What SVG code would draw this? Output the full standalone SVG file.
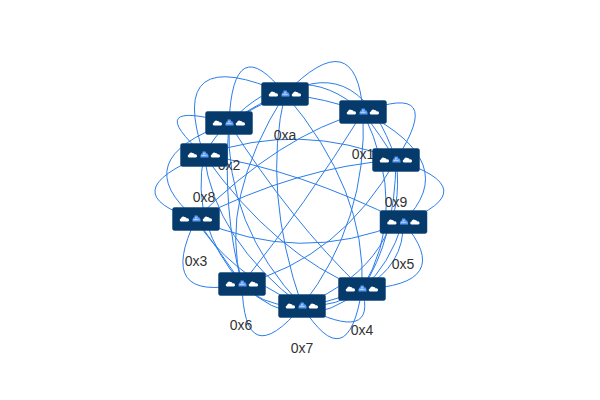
<svg xmlns="http://www.w3.org/2000/svg" width="600" height="400" viewBox="0 0 600 400">
<style>
#connectors path{fill:none;stroke:#2b7de9;stroke-width:1}
.box{fill:#063a6b;stroke:#0d4a80;stroke-width:.5}
.w{fill:#fff}.b{fill:#5d9cf2}
text{font-family:"Liberation Sans",Arial,sans-serif;font-size:14px;fill:#333;text-anchor:middle}
</style>
<defs>
<path id="cl" class="w" d="M-3 2.500a1.500 1.500 0 0 1 -.5 -3a2.200 2.200 0 0 1 3.400 -1.500a2.200 2.200 0 0 1 2.400 1.500a1.600 1.600 0 0 1 1.200 3z"/>
<g id="ic">
<rect class="box" x="-23.500" y="-11.500" width="47" height="23" rx="2"/>
<use href="#cl" x="-11.500"/>
<use href="#cl" x="11.500"/>
<path class="b" d="M-1.500 -3.500h3l1 2h1l1 2v2h-8v-2l1-2h1z"/>
<path class="w" d="M-.8 -1.500h1.600v.8h-1.600zM-2.500 .5h5v.6h-5z"/>
</g>
</defs>
<g id="connectors">
<path d="M285 94Q356 21 363 112"/>
<path d="M229 123Q233 28 285 94"/>
<path d="M363 112Q447 80 396 160"/>
<path d="M363 112Q463 163 403 222"/>
<path d="M396 160Q488 189 403 222"/>
<path d="M403 222Q457 285 362 289"/>
<path d="M362 289Q378 345 302 306"/>
<path d="M362 289Q348 379 302 306"/>
<path d="M242 284Q244 375 302 306"/>
<path d="M196 219Q155 303 242 284"/>
<path d="M204 155Q110 193 196 219"/>
<path d="M229 123Q140 98 204 155"/>
<path d="M285 94Q165 40 204 155"/>
<path d="M229 123Q296 52 363 112"/>
<path d="M285 94Q360 53 396 160"/>
<path d="M229 123Q124 159 196 219"/>
<path d="M229 123Q257 105 285 94"/>
<path d="M229 123Q262 100 285 94"/>
<path d="M285 94Q325 98 363 112"/>
<path d="M363 112Q380 135 396 160"/>
<path d="M204 155Q215 135 229 123"/>
<path d="M204 155Q300 121 396 160"/>
<path d="M196 219Q300 266 403 222"/>
<path d="M196 219Q296 167 396 160"/>
<path d="M204 155Q300 170 403 222"/>
<path d="M229 123Q290 220 362 289"/>
<path d="M204 155Q275 255 362 289"/>
<path d="M242 284Q218 200 285 94"/>
<path d="M285 94Q262 190 302 306"/>
<path d="M285 94Q367 190 362 289"/>
<path d="M363 112Q368 221 302 306"/>
<path d="M242 284Q305 205 363 112"/>
<path d="M196 219Q280 135 363 112"/>
<path d="M242 284Q341 258 396 160"/>
<path d="M229 123Q222 210 242 284"/>
<path d="M229 123Q225 225 302 306"/>
<path d="M204 155Q190 225 242 284"/>
<path d="M204 155Q215 240 302 306"/>
<path d="M196 219Q222 255 242 284"/>
<path d="M196 219Q225 270 302 306"/>
<path d="M242 284Q280 325 362 289"/>
<path d="M242 284Q300 340 362 289"/>
<path d="M302 306Q375 310 403 222"/>
<path d="M396 160Q395 240 362 289"/>
<path d="M363 112Q410 210 362 289"/>
<path d="M403 222Q405 265 362 289"/>
<path d="M396 160Q410 260 302 306"/>
</g>
<g id="labels">
<text x="285" y="140">0xa</text>
<text x="363" y="159">0x1</text>
<text x="396" y="207">0x9</text>
<text x="403" y="269">0x5</text>
<text x="362" y="335">0x4</text>
<text x="302" y="353">0x7</text>
<text x="241" y="330">0x6</text>
<text x="196" y="266">0x3</text>
<text x="204" y="202">0x8</text>
<text x="229" y="170">0x2</text>
</g>
<g id="node-0xa"><use href="#ic" x="285" y="94"/></g>
<g id="node-0x1"><use href="#ic" x="363" y="112"/></g>
<g id="node-0x9"><use href="#ic" x="396" y="160"/></g>
<g id="node-0x5"><use href="#ic" x="403.500" y="222"/></g>
<g id="node-0x4"><use href="#ic" x="362" y="289"/></g>
<g id="node-0x7"><use href="#ic" x="302" y="306"/></g>
<g id="node-0x6"><use href="#ic" x="242" y="284"/></g>
<g id="node-0x3"><use href="#ic" x="196" y="219"/></g>
<g id="node-0x8"><use href="#ic" x="204" y="155"/></g>
<g id="node-0x2"><use href="#ic" x="229" y="123"/></g>
</svg>
